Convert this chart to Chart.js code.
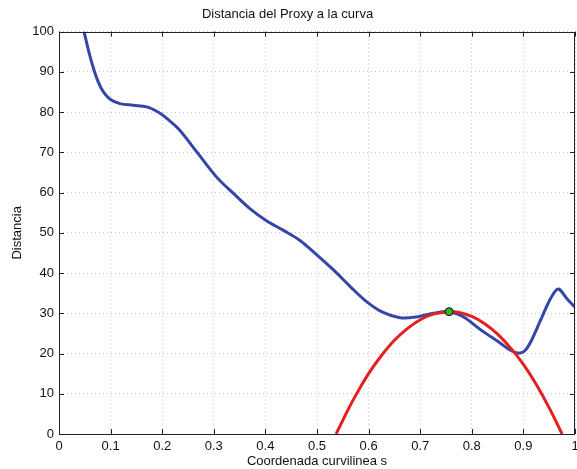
<!DOCTYPE html>
<html><head><meta charset="utf-8">
<script src="https://cdn.jsdelivr.net/npm/chart.js@4"></script>
<style>html,body{margin:0;padding:0;background:#fff}#w{width:577px;height:469px}</style>
</head><body><div id="w"><canvas id="c"></canvas></div>
<script>
const blueS = [0.0485,0.057,0.066,0.076,0.086,0.099,0.118,0.144,0.170,0.192,0.21,0.234,0.267,0.305,0.337,0.37,0.402,0.435,0.467,0.499,0.531,0.564,0.596,0.628,0.661,0.693,0.725,0.756,0.785,0.816,0.855,0.875,0.89,0.902,0.913,0.932,0.948,0.961,0.969,0.984,1.0];
const blueD = [100,95.4,91.2,87.5,85,83.2,82.1,81.7,81.3,80,78.3,75.5,70.1,63.9,59.9,56,53,50.6,48.1,44.6,40.9,36.7,32.9,30.2,28.9,29.1,30,30.4,29,26,22.6,20.8,20.1,20.6,22.6,27.9,32.5,35.4,36,33.7,31.5];
const redS = [0.537,0.56,0.575,0.6,0.625,0.65,0.675,0.7,0.725,0.756,0.775,0.8,0.825,0.85,0.875,0.9,0.925,0.95,0.975];
const redD = [0,6.0,9.6,15.0,19.5,23.3,26.2,28.4,29.8,30.4,30.2,29.2,27.4,24.8,21.4,17.3,12.3,6.5,0];
const pointS = [0.756];
const pointD = [30.4];
const xTicks = [0,0.1,0.2,0.3,0.4,0.5,0.6,0.7,0.8,0.9,1];
const yTicks = [0,10,20,30,40,50,60,70,80,90,100];

const toXY = (xs, ys) => xs.map((x, i) => ({x: x, y: ys[i]}));
const FONT = "'Liberation Sans', Arial, sans-serif";

const boxTicks = {
  id: 'boxTicks',
  afterDraw(chart) {
    const {ctx, chartArea: a, scales} = chart;
    ctx.save();
    ctx.strokeStyle = '#222';
    ctx.lineWidth = 1;
    ctx.beginPath();
    xTicks.forEach(v => {
      const p = Math.round(scales.x.getPixelForValue(v)) + 0.5;
      ctx.moveTo(p, a.bottom); ctx.lineTo(p, a.bottom - 5);
      ctx.moveTo(p, a.top); ctx.lineTo(p, a.top + 5);
    });
    yTicks.forEach(v => {
      const p = Math.round(scales.y.getPixelForValue(v)) + 0.5;
      ctx.moveTo(a.left, p); ctx.lineTo(a.left + 5, p);
      ctx.moveTo(a.right, p); ctx.lineTo(a.right - 5, p);
    });
    ctx.stroke();
    ctx.strokeRect(Math.round(a.left) + 0.5, Math.round(a.top) + 0.5, Math.round(a.right - a.left) - 1, Math.round(a.bottom - a.top));
    ctx.restore();
  }
};

new Chart(document.getElementById('c'), {
  type: 'line',
  data: {
    datasets: [
      {data: toXY(blueS, blueD), borderColor: '#3646a8', borderWidth: 3, pointRadius: 0, tension: 0.35, order: 2},
      {data: toXY(redS, redD), borderColor: '#e41f1f', borderWidth: 3, pointRadius: 0, tension: 0.4, order: 1},
      {data: toXY(pointS, pointD), showLine: false, pointRadius: 4, pointBackgroundColor: '#2fb52f', pointBorderColor: '#111', pointBorderWidth: 1, order: 0}
    ]
  },
  options: {
    responsive: true, maintainAspectRatio: false, animation: false,
    layout: {autoPadding: false, padding: {left: 0, right: 2, top: 0, bottom: 0}},
    plugins: {
      legend: {display: false}, tooltip: {enabled: false},
      title: {display: true, text: 'Distancia del Proxy a la curva', color: '#111', font: {family: FONT, size: 13, weight: 'normal'}, padding: {top: 7, bottom: 9}}
    },
    scales: {
      x: {
        type: 'linear', min: 0, max: 1,
        afterBuildTicks: s => { s.ticks = xTicks.map(v => ({value: v})); },
        afterFit: s => { s.height = 35; s.paddingLeft = 0; s.paddingRight = 0; },
        ticks: {color: '#111', font: {family: FONT, size: 13}, padding: 5, maxRotation: 0, callback: v => String(v)},
        grid: {color: '#c4c4c4', lineWidth: 1, drawTicks: false, tickLength: 0},
        border: {display: false, dash: [1, 3]},
        title: {display: true, text: 'Coordenada curvilinea s', color: '#111', font: {family: FONT, size: 13}, padding: {top: 0, bottom: 0}}
      },
      y: {
        type: 'linear', min: 0, max: 100,
        afterBuildTicks: s => { s.ticks = yTicks.map(v => ({value: v})); },
        afterFit: s => { s.width = 59; s.paddingTop = 0; s.paddingBottom = 0; },
        ticks: {color: '#111', font: {family: FONT, size: 13}, padding: 5},
        grid: {color: '#c4c4c4', lineWidth: 1, drawTicks: false, tickLength: 0},
        border: {display: false, dash: [1, 3]},
        title: {display: true, text: 'Distancia', color: '#111', font: {family: FONT, size: 13}, padding: {top: 10, bottom: 0}}
      }
    }
  },
  plugins: [boxTicks]
});
</script>
</body></html>
